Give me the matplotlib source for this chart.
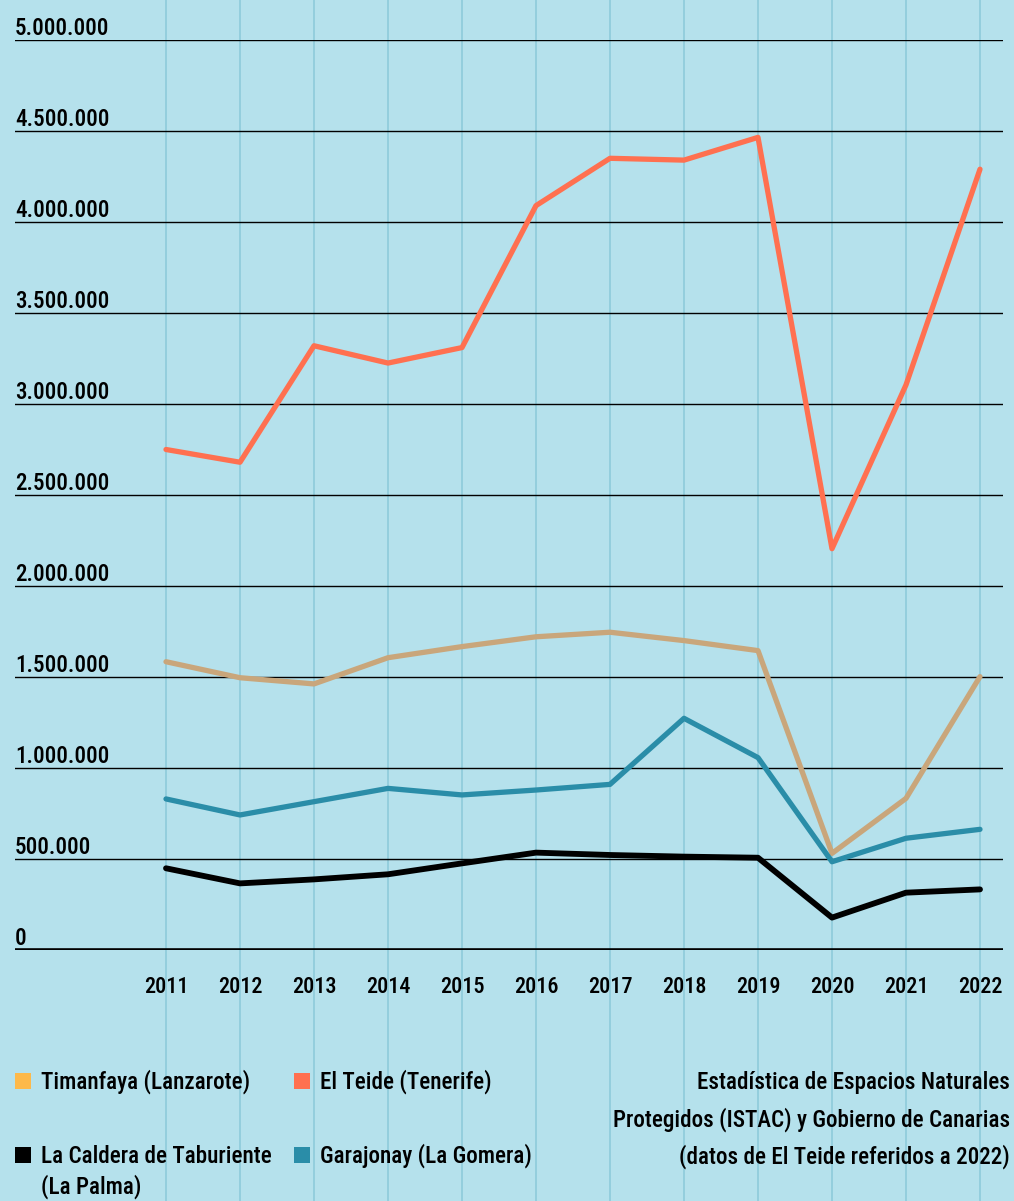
import matplotlib
matplotlib.use("Agg")
import matplotlib.pyplot as plt
from matplotlib import font_manager
from matplotlib.patches import Rectangle

# ---------------- data ----------------
years = [2011, 2012, 2013, 2014, 2015, 2016, 2017, 2018, 2019, 2020, 2021, 2022]
teide = [2750000, 2680000, 3320000, 3225000, 3310000, 4090000, 4350000, 4340000, 4465000, 2205000, 3105000, 4290000]
timanfaya = [1584000, 1496000, 1462000, 1606000, 1667000, 1721000, 1746000, 1700000, 1645000, 531000, 833000, 1502000]
garajonay = [830000, 742000, 815000, 888000, 852000, 879000, 910000, 1273000, 1057000, 485000, 614000, 663000]
caldera = [449000, 366000, 388000, 416000, 476000, 535000, 522000, 513000, 507000, 178000, 315000, 333000]

ytick_values = [0, 500000, 1000000, 1500000, 2000000, 2500000, 3000000, 3500000, 4000000, 4500000, 5000000]
ytick_labels = ["0", "500.000", "1.000.000", "1.500.000", "2.000.000", "2.500.000",
                "3.000.000", "3.500.000", "4.000.000", "4.500.000", "5.000.000"]
year_labels = [str(y) for y in years]

legend_labels = ["Timanfaya (Lanzarote)", "El Teide (Tenerife)",
                 "La Caldera de Taburiente\n(La Palma)", "Garajonay (La Gomera)"]
legend_colors = ["#fdb94a", "#ff7050", "#000000", "#2a8da8"]
source_text = "Estadística de Espacios Naturales\nProtegidos (ISTAC) y Gobierno de Canarias\n(datos de El Teide referidos a 2022)"

# ---------------- style ----------------
available = {f.name for f in font_manager.fontManager.ttflist}
family = ["DejaVu Sans"]
for cand in ["Roboto Condensed", "Liberation Sans Narrow", "Open Sans Condensed", "Roboto", "Liberation Sans"]:
    if cand in available:
        family = [cand, "DejaVu Sans"]
        break
plt.rcParams["font.family"] = family

BG = "#b5e1ec"
VLINE = "#91cddc"
W, H = 1014, 1201
fig = plt.figure(figsize=(W / 100, H / 100), dpi=100, facecolor=BG)

ax_left, ax_right = 15, 1003
ax_top, ax_bottom = 40, 950
ax = fig.add_axes([ax_left / W, (H - ax_bottom) / H, (ax_right - ax_left) / W, (ax_bottom - ax_top) / H])
ax.set_facecolor("none")
for s in ax.spines.values():
    s.set_visible(False)

ax.set_xlim(2011 - 151 / 74, 2022 + 23 / 74)
ax.set_ylim(0, 5000000)

# vertical background lines spanning the whole figure
ymin_ext = -(H - ax_bottom) / (ax_bottom - ax_top)
ymax_ext = 1 + ax_top / (ax_bottom - ax_top)
for y in years:
    ax.axvline(y, ymin=ymin_ext, ymax=ymax_ext, color=VLINE, lw=1.3, clip_on=False, zorder=0)

# horizontal gridlines
for v in ytick_values:
    ax.axhline(v, color="black", lw=2.6 if v == 0 else 1.0, zorder=1)

WEIGHT = "medium"
fs = 16.7
for v, lab in zip(ytick_values, ytick_labels):
    ax.annotate(lab, xy=(0, v), xycoords=("axes fraction", "data"), xytext=(0, 0),
                textcoords="offset points", ha="left", va="bottom", fontsize=fs,
                fontweight=WEIGHT, color="black")

# series
ax.plot(years, teide, color="#ff7050", lw=3.8, solid_capstyle="round", zorder=3)
ax.plot(years, timanfaya, color="#c9a67b", lw=3.8, solid_capstyle="round", zorder=3)
ax.plot(years, garajonay, color="#2a8da8", lw=3.8, solid_capstyle="round", zorder=3)
ax.plot(years, caldera, color="#000000", lw=4.2, solid_capstyle="round", zorder=3)

ax.set_xticks(years)
ax.set_xticklabels(year_labels, fontsize=16, fontweight=WEIGHT)
ax.tick_params(axis="x", length=0, pad=19)
ax.set_yticks([])

# legend (manual)
def fy(py):
    return (H - py) / H

def fx(px):
    return px / W

leg_pos = [(15, 1089), (294, 1089), (15, 1163), (294, 1163)]
for (px, py), lab, col in zip(leg_pos, legend_labels, legend_colors):
    fig.patches.append(Rectangle((fx(px), fy(py)), 16 / W, 16 / H, transform=fig.transFigure,
                                 facecolor=col, edgecolor="none"))
    for i, line in enumerate(lab.split("\n")):
        fig.text(fx(px + 26), fy(py + 31 * i), line, ha="left", va="baseline",
                 fontsize=fs, color="black", fontweight=WEIGHT)

for i, line in enumerate(source_text.split("\n")):
    fig.text(fx(1010), fy(1089 + 37.5 * i), line, ha="right", va="baseline", fontsize=fs,
             color="black", fontweight=WEIGHT)

fig.savefig("out.png", dpi=100, facecolor=BG)
